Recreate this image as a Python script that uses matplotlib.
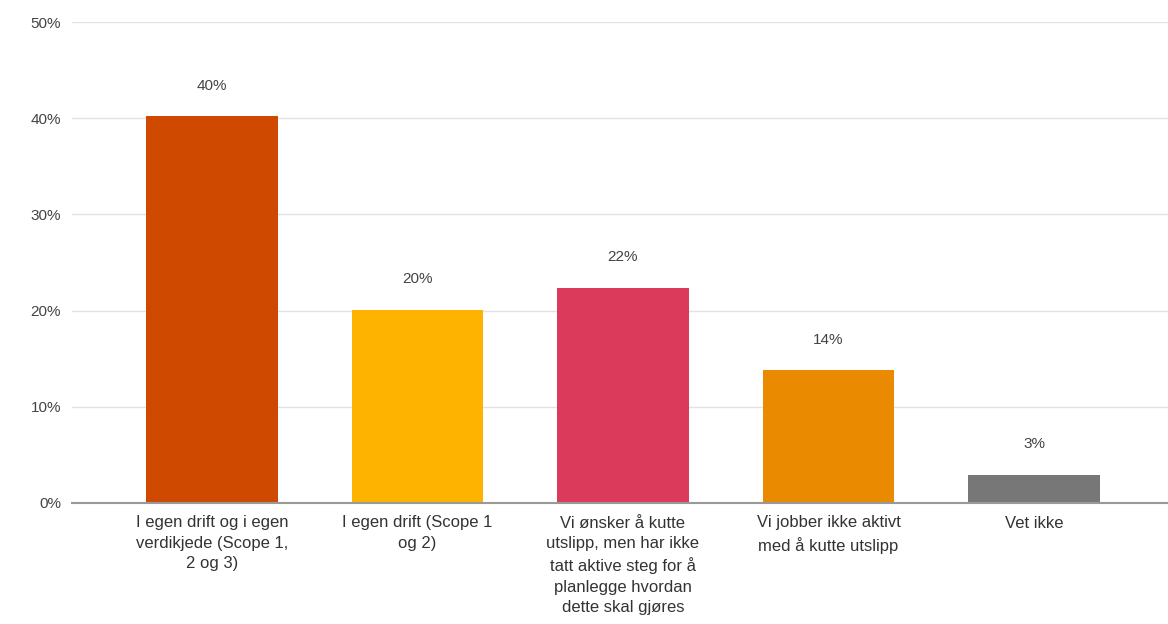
import matplotlib
matplotlib.use("Agg")
import matplotlib.pyplot as plt

# data
categories = [
    "I egen drift og i egen\nverdikjede (Scope 1,\n2 og 3)",
    "I egen drift (Scope 1\nog 2)",
    "Vi ønsker å kutte\nutslipp, men har ikke\ntatt aktive steg for å\nplanlegge hvordan\ndette skal gjøres",
    "Vi jobber ikke aktivt\nmed å kutte utslipp",
    "Vet ikke",
]
values = [40.2, 20.1, 22.4, 13.8, 2.9]
value_labels = ["40%", "20%", "22%", "14%", "3%"]
colors = ["#CF4A00", "#FDB300", "#DB3A5A", "#EA8A00", "#777777"]
yticks = [0, 10, 20, 30, 40, 50]

plt.rcParams["font.family"] = ["Liberation Sans", "DejaVu Sans"]

fig = plt.figure(figsize=(11.68, 6.24), dpi=100)
ax = fig.add_axes([72 / 1168, 121 / 624, 1 - 72 / 1168, 481 / 624])

x = list(range(len(categories)))
bars = ax.bar(x, values, width=0.64, color=colors, zorder=3)

for b, lab in zip(bars, value_labels):
    ax.annotate(lab, (b.get_x() + b.get_width() / 2, b.get_height()),
                xytext=(0, 17), textcoords="offset points",
                ha="center", va="bottom", fontsize=11, color="#444444")

ax.set_xlim(-0.681, 4.652)
ax.set_ylim(0, 50)
ax.set_yticks(yticks)
ax.set_yticklabels([f"{t}%" for t in yticks], fontsize=11, color="#444444")
ax.set_xticks(x)
ax.set_xticklabels(categories, fontsize=12, color="#333333", linespacing=1.45, va="top")
ax.tick_params(axis="both", length=0)
ax.tick_params(axis="x", pad=9)
ax.tick_params(axis="y", pad=8)

ax.grid(axis="y", color="#E2E2E2", linewidth=1, zorder=0)
for s in ["top", "right", "left"]:
    ax.spines[s].set_visible(False)
ax.spines["bottom"].set_color("#999999")
ax.spines["bottom"].set_linewidth(1.5)
ax.spines["bottom"].set_zorder(4)

fig.savefig("out.png", dpi=100)
